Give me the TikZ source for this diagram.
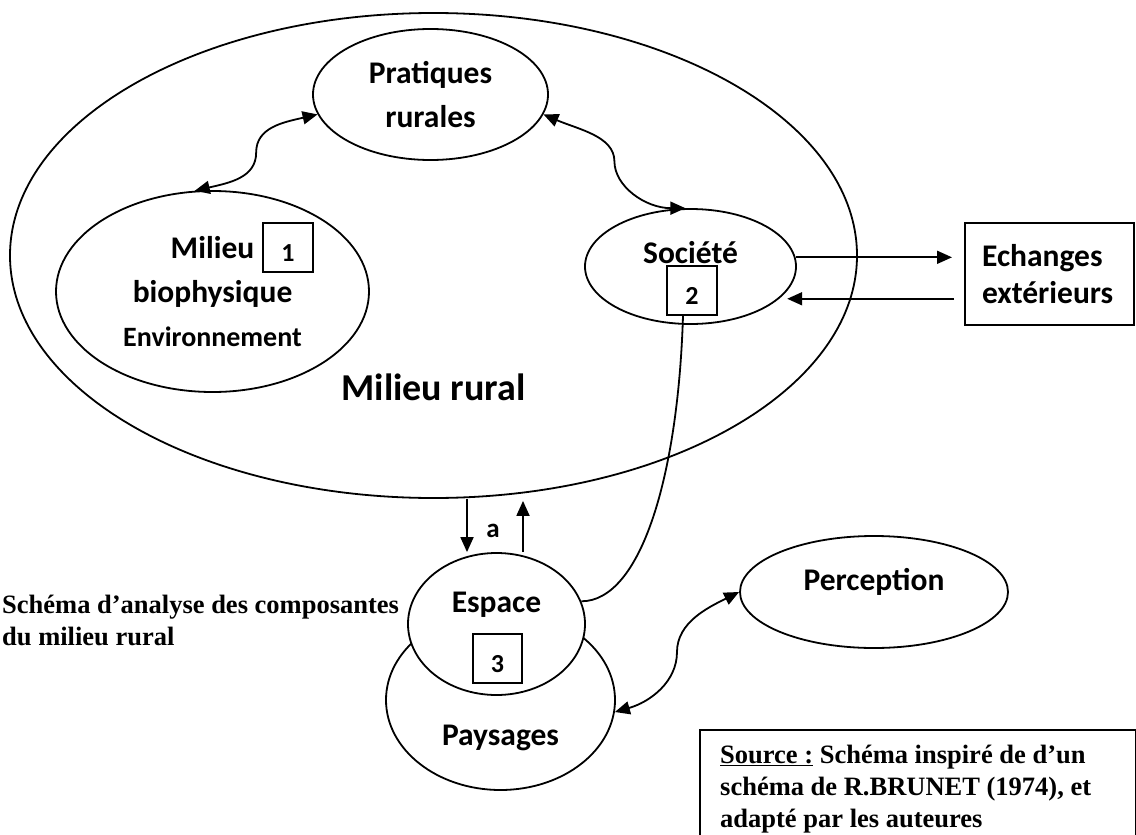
\documentclass[tikz,border=0pt]{standalone}
\usepackage{fontspec}
\setmainfont{Carlito}
\newfontfamily\timesfont{Liberation Serif}
\usetikzlibrary{arrows.meta,shapes.geometric,calc}

\begin{document}
\begin{tikzpicture}[x=1pt, y=-1pt,
    zone/.style={draw, ellipse, line width=1.8pt, inner sep=0pt, align=center, font=\fontsize{31.5}{44}\selectfont\bfseries},
    numbox/.style={draw, line width=1.9pt, minimum width=50pt, minimum height=49pt, inner sep=0pt, text height=27pt, text depth=0pt, font=\fontsize{26}{26}\selectfont\bfseries},
    lbl/.style={font=\fontsize{31.5}{44}\selectfont\bfseries, inner sep=0pt, anchor=base},
    arr/.style={-{Triangle[length=15pt,width=13pt]}, line width=1.8pt},
    darr/.style={{Triangle[length=15pt,width=13pt]}-{Triangle[length=15pt,width=13pt]}, line width=1.8pt},
    note/.style={font=\timesfont\fontsize{26.5}{32}\selectfont\bfseries, align=left, inner sep=0pt, anchor=north west}
]
\useasboundingbox (0,0) rectangle (1136,835);

% milieu rural et ses composantes
\node[zone, minimum width=847pt, minimum height=485pt] (rural) at (433.5,255.5) {};
\node[lbl, font=\fontsize{38}{38}\selectfont\bfseries] (ruralTxt) at ([yshift=-144.5pt]rural.center) {Milieu rural};

\node[zone, minimum width=235pt, minimum height=131pt] (prat) at (430.5,94.5) {Pratiques\\rurales};
\node[zone, minimum width=313pt, minimum height=201pt] (bio) at (212.5,291.5) {Milieu\\biophysique\\{\fontsize{28}{44}\selectfont Environnement}};
\node[numbox] (num1) at (288,247.5) {1};

\node[zone, minimum width=211pt, minimum height=115pt] (soc) at (690.5,266.5) {};
\node[lbl] (socTxt) at ([yshift=3.5pt]soc.center) {Société};
\node[numbox] (num2) at (692,290.5) {2};

\node[draw, line width=2pt, minimum width=169pt, minimum height=102pt, text width=135pt, inner xsep=17pt, align=left, font=\fontsize{31.5}{37}\selectfont\bfseries] (ech) at (1049.5,274) {Echanges\\extérieurs};

% espace et paysages
\node[zone, minimum width=229pt, minimum height=180pt] (pays) at (500.5,700) {};
\node[lbl] (paysTxt) at ([yshift=-45pt]pays.center) {Paysages};
\node[zone, fill=white, minimum width=177pt, minimum height=142pt] (esp) at (496.5,624) {};
\node[lbl] (espTxt) at ([yshift=12pt]esp.center) {Espace};
\node[numbox, minimum width=49pt] (num3) at (497.5,658.5) {3};

\node[zone, minimum width=268pt, minimum height=112pt] (perc) at (874,592) {};
\node[lbl] (percTxt) at ([yshift=2pt]perc.center) {Perception};

% titre et source
\node[note] (titre) at (2,595) {Schéma d’analyse des composantes\\du milieu rural};
\node[draw, line width=2pt, minimum width=436pt, minimum height=108pt, anchor=north west] (src) at (699,729) {};
\node[note] (srcTxt) at (720,745) {\underline{Source :} Schéma inspiré de d’un\\schéma de R.BRUNET (1974), et\\adapté par les auteures};

% liaisons
\draw[darr] (bio.100) .. controls +(35,-8) and +(0,25) .. ($(bio.100)!.5!(prat.190)$) .. controls +(0,-25) and +(-35,8) .. (prat.190);
\draw[darr] (prat.-10) .. controls +(35,15) and +(0,-25) .. ($(prat.-10)!.5!(soc.95)$) .. controls +(0,25) and +(-40,0) .. (soc.95);

\draw[arr, shorten >=12pt] (soc.5) -- (soc.5 -| ech.west);
\draw[arr, shorten <=10pt, shorten >=8pt] (soc.-20 -| ech.west) -- (soc.-20);

\draw[line width=1.8pt] ([xshift=-9pt]num2.south) .. controls +(-5,162) and +(59,0) .. (esp.15);

\draw[arr] ([xshift=33.5pt]rural.south) -- ([xshift=33.5pt]rural.south |- esp.north);
\draw[arr, shorten >=2pt] ([xshift=26.5pt]esp.north) -- ([xshift=26.5pt]esp.north |- rural.south);
\node[lbl, font=\fontsize{27}{27}\selectfont\bfseries] (lblA) at (493,537) {a};

\draw[darr] (pays.-6) .. controls +(35,-10) and +(0,30) .. ($(pays.-6)!.5!(perc.west)$) .. controls +(0,-30) and +(-30,15) .. (perc.west);
\end{tikzpicture}
\end{document}
